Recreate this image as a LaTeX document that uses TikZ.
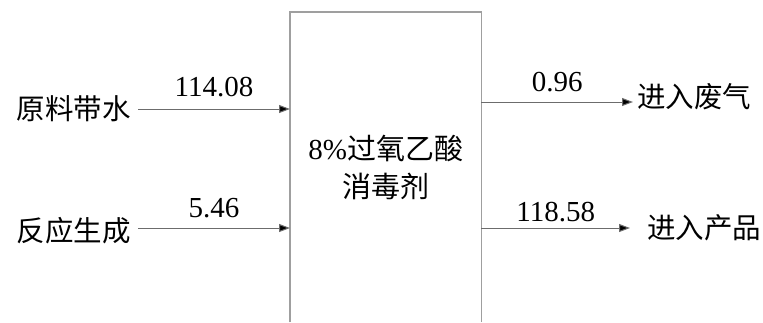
\documentclass[tikz,border=0pt]{standalone}
\usepackage{fontspec}
\setmainfont{Liberation Serif}
\newfontfamily\cjk{Noto Sans CJK SC}
\usetikzlibrary{arrows.meta}
\tikzset{
  txt/.style={font=\fontsize{28.5}{32}\selectfont\cjk, inner sep=2pt},
  lab/.style={font=\fontsize{29}{32}\selectfont, inner sep=2pt},
  boxline/.style={draw=gray!75, line width=1.2pt},
  arr/.style={draw=gray!85!black, line width=1pt, -{Triangle[length=11pt,width=8pt,fill=black]}}
}
\begin{document}
\begin{tikzpicture}[x=1pt,y=-1pt]
\useasboundingbox (0,0) rectangle (763,322);
\node[minimum width=191pt, minimum height=310pt, inner sep=0pt, anchor=north west,
      align=center, font=\fontsize{29}{38}\selectfont] (box) at (290,12)
  {8\%{\cjk 过氧乙酸}\\{\cjk 消毒剂}};
\draw[boxline] (box.south west) -- (box.north west) -- (box.north east) -- (box.south east);
\node[txt, anchor=east] (a) at (133,109) {原料带水};
\node[txt, anchor=east] (b) at (133,231) {反应生成};
\node[txt, anchor=west] (c) at (635,97) {进入废气};
\node[txt, anchor=west] (d) at (645,228) {进入产品};
\coordinate (a1) at (138,109);
\coordinate (b1) at (138,228);
\coordinate (c1) at (633,102);
\coordinate (d1) at (630,228);
\draw[arr] (a1) -- (a1 -| box.west) node[lab, midway, above=10pt] (la) {114.08};
\draw[arr] (b1) -- (b1 -| box.west) node[lab, midway, above=8pt] (lb) {5.46};
\draw[arr] (c1 -| box.east) -- (c1) node[lab, midway, above=8pt] (lc) {0.96};
\draw[arr] (d1 -| box.east) -- (d1) node[lab, midway, above=4pt] (ld) {118.58};
\end{tikzpicture}
\end{document}
